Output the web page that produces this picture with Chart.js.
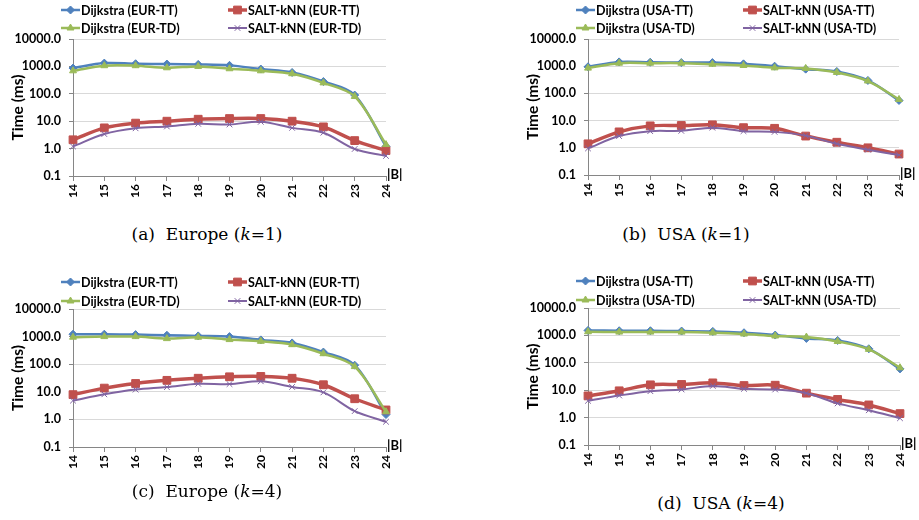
<!DOCTYPE html>
<html><head><meta charset="utf-8">
<script src="https://cdn.jsdelivr.net/npm/chart.js@4.4.1/dist/chart.umd.min.js"></script>
<style>
html,body{margin:0;padding:0;background:#fff;}
#wrap{position:relative;width:919px;height:520px;overflow:hidden;background:#fff;}
.panel{position:absolute;width:404px;height:215px;}
.cap{position:absolute;font-family:"DejaVu Serif","Liberation Serif",serif;font-size:17px;color:#000;white-space:nowrap;transform:translate(-50%,-50%);line-height:20px;}
</style></head><body>
<div id="wrap">
<div class="panel" style="left:0;top:0"><canvas id="ca"></canvas></div>
<div class="panel" style="left:515px;top:0"><canvas id="cb"></canvas></div>
<div class="panel" style="left:0;top:270px"><canvas id="cc"></canvas></div>
<div class="panel" style="left:515px;top:270px"><canvas id="cd"></canvas></div>
<div class="cap" style="left:207px;top:234px">(a)&nbsp; Europe (<i>k</i>=1)</div>
<div class="cap" style="left:686px;top:234px">(b)&nbsp; USA (<i>k</i>=1)</div>
<div class="cap" style="left:207px;top:491px">(c)&nbsp; Europe (<i>k</i>=4)</div>
<div class="cap" style="left:721px;top:503px">(d)&nbsp; USA (<i>k</i>=4)</div>
</div>
<script>
// ---- data ----
const bSizes = ['14','15','16','17','18','19','20','21','22','23','24'];
const yTicks = [0.1, 1, 10, 100, 1000, 10000];

const eurK1DijTT  = [870,1320,1250,1220,1180,1090,800,600,280,90,1.2];
const eurK1SaltTT = [2.1,5.7,8.5,10,11.8,12.5,12.5,10,6.2,1.96,0.85];
const eurK1DijTD  = [690,1060,1060,890,1000,820,690,540,250,80,1.4];
const eurK1SaltTD = [1.2,3.4,5.5,6.4,8.0,7.6,9.5,5.7,3.8,0.97,0.54];

const usaK1DijTT  = [950,1440,1400,1360,1360,1220,1000,780,640,300,55];
const usaK1SaltTT = [1.4,3.85,6.4,6.6,7.0,5.5,5.2,2.7,1.6,1.0,0.59];
const usaK1DijTD  = [850,1290,1290,1290,1180,1060,870,830,590,285,60];
const usaK1SaltTD = [0.95,2.7,4.1,4.2,5.5,4.1,3.85,2.8,1.4,0.85,0.54];

const eurK4DijTT  = [1220,1220,1180,1120,1060,1000,760,590,275,92,1.5];
const eurK4SaltTT = [7.9,13.6,20,26,31,35,36,31,18,5.6,2.2];
const eurK4DijTD  = [950,1000,1000,845,950,780,675,510,240,82,1.9];
const eurK4SaltTD = [4.8,8.1,12,14.8,19.5,19,24,15,9.5,2.0,0.82];

const usaK4DijTT  = [1520,1480,1480,1440,1400,1250,1030,775,655,325,60];
const usaK4SaltTT = [6.2,9.5,15.7,16.2,18.5,14.8,15.2,7.8,4.6,2.9,1.4];
const usaK4DijTD  = [1360,1320,1320,1320,1250,1120,950,870,600,310,66];
const usaK4SaltTD = [4.1,6.4,9.2,10.6,14.3,11.2,10.6,7.8,3.3,1.85,0.95];

// ---- styling ----
const BLUE='#4F81BD', RED='#C0504D', GREEN='#9BBB59', PURPLE='#8064A2';
Chart.defaults.font.family = 'Lato, "Open Sans", sans-serif';

const gridLegend = {
  id: 'gridLegend',
  afterDraw(chart, args, opts) {
    const ctx = chart.ctx;
    ctx.save();
    chart.data.datasets.forEach((ds, i) => {
      const col = i % 2, row = Math.floor(i / 2);
      const x0 = opts.xs[col], y = opts.ys[row], len = opts.len;
      ctx.strokeStyle = ds.borderColor; ctx.lineWidth = ds.borderWidth;
      ctx.lineCap = 'butt';
      ctx.beginPath(); ctx.moveTo(x0, y); ctx.lineTo(x0 + len, y); ctx.stroke();
      ctx.fillStyle = ds.pointBackgroundColor; ctx.strokeStyle = ds.pointBorderColor;
      ctx.lineWidth = ds.pointBorderWidth;
      Chart.helpers.drawPoint(ctx, {pointStyle: ds.pointStyle, radius: ds.pointRadius, borderWidth: ds.pointBorderWidth, rotation: 0}, x0 + len / 2, y);
      ctx.fillStyle = '#000'; ctx.font = opts.font; ctx.textBaseline = 'middle'; ctx.textAlign = 'left';
      ctx.fillText(ds.label, x0 + len + 1, y + 0.5);
    });
    const a = chart.chartArea;
    ctx.font = 'bold 13px Lato'; ctx.fillStyle = '#000'; ctx.textBaseline = 'middle';
    ctx.fillText('|B|', a.right + 1, a.bottom - 1);
    ctx.restore();
  }
};

function ds(label, data, color, style, radius, width, order, pbw) {
  return {label, data, borderColor: color, backgroundColor: color,
    pointBackgroundColor: color, pointBorderColor: color,
    pointStyle: style, pointRadius: radius, pointBorderWidth: pbw, borderWidth: width,
    tension: 0.33, order, fill: false};
}

function makeChart(id, region, dTT, sTT, dTD, sTD, pad, xh, legendYs) {
  new Chart(document.getElementById(id), {
    type: 'line',
    data: {
      labels: bSizes,
      datasets: [
        ds('Dijkstra (' + region + '-TT)', dTT, BLUE, 'rectRot', 4, 2.5, 4, 1),
        ds('SALT-kNN (' + region + '-TT)', sTT, RED, 'rect', 5.5, 3.5, 3, 1),
        ds('Dijkstra (' + region + '-TD)', dTD, GREEN, 'triangle', 4, 2.5, 2, 1),
        ds('SALT-kNN (' + region + '-TD)', sTD, PURPLE, 'crossRot', 4, 2, 1, 1)
      ]
    },
    options: {
      responsive: true, maintainAspectRatio: false, animation: false, events: [],
      layout: {padding: pad},
      plugins: {
        legend: {display: false}, tooltip: {enabled: false},
        gridLegend: {xs: [61, 228], ys: legendYs, len: 19, font: 'bold 12.5px Lato'}
      },
      scales: {
        x: {
          type: 'category', offset: false,
          grid: {display: true, drawOnChartArea: false, tickLength: 5, tickColor: '#868686'},
          border: {color: '#868686', width: 1},
          ticks: {minRotation: 90, maxRotation: 90, autoSkip: false, color: '#000', padding: 3,
                  font: {size: 12, weight: 'bold'}},
          afterFit(s) { s.height = xh; }
        },
        y: {
          type: 'logarithmic', min: 0.1, max: 10000,
          afterBuildTicks(s) { s.ticks = yTicks.map(v => ({value: v})); },
          grid: {color: '#D9D9D9', tickColor: '#868686', tickLength: 4, lineWidth: 1},
          border: {color: '#868686', width: 1},
          ticks: {color: '#000', padding: 8, font: {size: 12.5, weight: 'bold'},
                  callback: v => Number(v).toFixed(1)},
          title: {display: true, text: 'Time (ms)', color: '#000', font: {size: 15.5, weight: 'bold'},
                  padding: {top: 9, bottom: 0}},
          afterFit(s) { s.width = 73; }
        }
      }
    },
    plugins: [gridLegend]
  });
}

makeChart('ca', 'EUR', eurK1DijTT, eurK1SaltTT, eurK1DijTD, eurK1SaltTD, {left: 0, top: 39, right: 18, bottom: 0}, 39, [10, 28]);
makeChart('cb', 'USA', usaK1DijTT, usaK1SaltTT, usaK1DijTD, usaK1SaltTD, {left: 0, top: 39, right: 20, bottom: 0}, 40, [10, 28]);
makeChart('cc', 'EUR', eurK4DijTT, eurK4SaltTT, eurK4DijTD, eurK4SaltTD, {left: 0, top: 39, right: 18, bottom: 0}, 38, [12, 31]);
makeChart('cd', 'USA', usaK4DijTT, usaK4SaltTT, usaK4DijTD, usaK4SaltTD, {left: 0, top: 38, right: 19, bottom: 0}, 40, [11, 30]);
</script>
</body></html>
